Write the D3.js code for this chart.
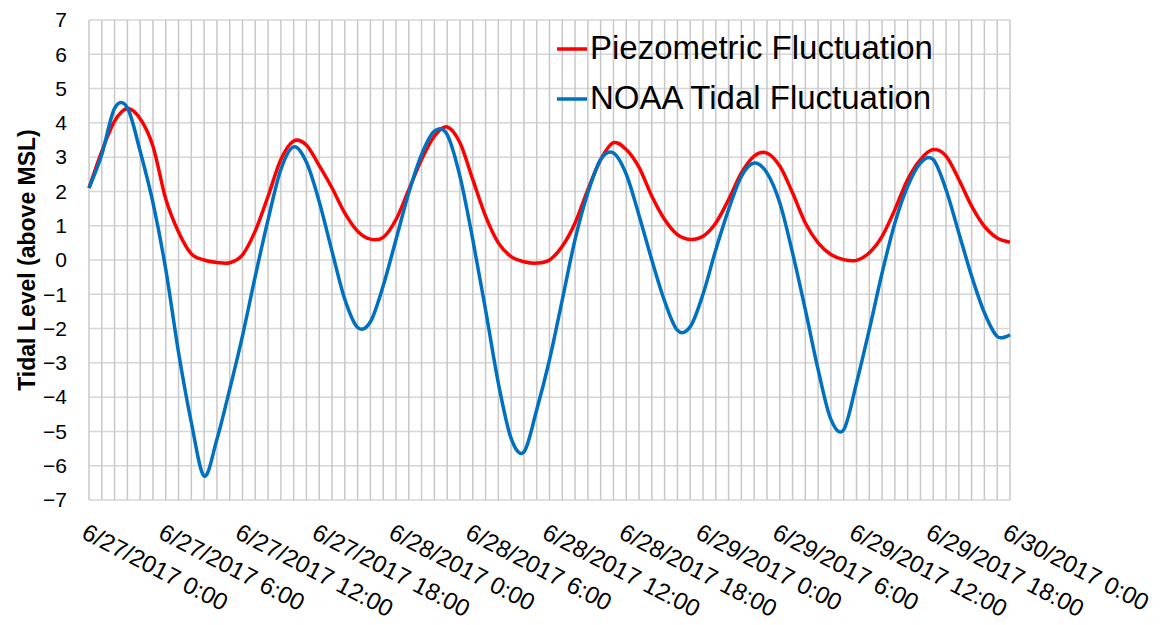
<!DOCTYPE html>
<html>
<head>
<meta charset="utf-8">
<script src="https://cdn.jsdelivr.net/npm/d3@7"></script>
<style>
  body { margin: 0; background: #fff; }
  svg { display: block; font-family: "Liberation Sans", Arial, sans-serif; }
</style>
</head>
<body>
<div id="chart"></div>
<script>
// hourly readings, 6/27/2017 0:00 .. 6/30/2017 0:00
let hours = d3.range(0, 73)

let piezometric = [
  2.10, 3.17, 4.05, 4.42, 4.12, 3.32, 1.78, 0.82, 0.18, 0.00,
  -0.07, -0.08, 0.15, 0.85, 1.86, 2.93, 3.47, 3.35, 2.75, 2.10,
  1.37, 0.84, 0.61, 0.66, 1.18, 2.05, 2.93, 3.61, 3.88, 3.42,
  2.35, 1.28, 0.50, 0.10, -0.05, -0.09, 0.00, 0.40, 1.08, 2.05,
  2.93, 3.42, 3.22, 2.70, 1.86, 1.18, 0.74, 0.60, 0.69, 1.08,
  1.76, 2.54, 3.03, 3.12, 2.74, 1.96, 1.08, 0.50, 0.16, 0.01,
  -0.01, 0.21, 0.69, 1.47, 2.35, 2.93, 3.22, 3.03, 2.35, 1.57,
  0.98, 0.64, 0.52
]

let noaa = [
  2.10, 3.08, 4.42, 4.44, 3.17, 1.67, -0.27, -2.70, -4.74, -6.30,
  -5.23, -3.77, -2.21, -0.47, 1.18, 2.64, 3.30, 2.85, 1.70, 0.25,
  -1.15, -1.97, -1.80, -0.75, 0.60, 1.96, 3.08, 3.76, 3.66, 2.44,
  0.60, -1.45, -3.59, -5.20, -5.60, -4.37, -2.91, -1.16, 0.60, 1.96,
  2.93, 3.12, 2.50, 1.30, 0.00, -1.20, -2.05, -1.95, -1.00, 0.30,
  1.47, 2.44, 2.83, 2.54, 1.67, 0.21, -1.45, -3.20, -4.65, -4.95,
  -3.59, -2.03, -0.38, 1.08, 2.15, 2.83, 2.93, 2.05, 0.79, -0.47,
  -1.54, -2.23, -2.18
]

let labelHours = [0, 6, 12, 18, 24, 30, 36, 42, 48, 54, 60, 66, 72]
let tickLabels = [
  "6/27/2017 0:00", "6/27/2017 6:00", "6/27/2017 12:00", "6/27/2017 18:00",
  "6/28/2017 0:00", "6/28/2017 6:00", "6/28/2017 12:00", "6/28/2017 18:00",
  "6/29/2017 0:00", "6/29/2017 6:00", "6/29/2017 12:00", "6/29/2017 18:00",
  "6/30/2017 0:00"
]
let yTicks = d3.range(-7, 8)

let seriesNames = ["Piezometric Fluctuation", "NOAA Tidal Fluctuation"]
let seriesColors = ["#ff0000", "#0070c0"]

let width = 1167, height = 625
let plotLeft = 89, plotRight = 1010, plotTop = 20, plotBottom = 500

let svg = d3.select("#chart")
    .append("svg")
    .attr("width", width)
    .attr("height", height)

let x = d3.scaleLinear().domain([0, 72]).range([plotLeft, plotRight])
let y = d3.scaleLinear().domain([-7, 7]).range([plotBottom, plotTop])

// gridlines
svg.append("g")
    .selectAll("line")
    .data(yTicks)
    .enter()
    .append("line")
    .attr("x1", plotLeft)
    .attr("x2", plotRight)
    .attr("y1", d => y(d))
    .attr("y2", d => y(d))
    .style("stroke", "#d6d6d6")
    .style("stroke-width", 1.5)

svg.append("g")
    .selectAll("line")
    .data(hours)
    .enter()
    .append("line")
    .attr("x1", d => x(d))
    .attr("x2", d => x(d))
    .attr("y1", plotTop)
    .attr("y2", plotBottom)
    .style("stroke", "#c8c8c8")
    .style("stroke-width", 1.5)

// y axis
let yAxis = svg.append("g")
    .attr("transform", "translate(" + plotLeft + ",0)")
    .call(d3.axisLeft(y).tickValues(yTicks).tickSize(0).tickPadding(22))
yAxis.select(".domain").remove()
yAxis.selectAll("text")
    .style("font-size", "21px")
    .style("font-family", "'Liberation Sans', Arial, sans-serif")
    .style("fill", "#000")

svg.append("text")
    .attr("transform", "translate(35," + ((plotTop + plotBottom) / 2) + ") rotate(-90)")
    .attr("text-anchor", "middle")
    .style("font-size", "23px")
    .style("font-weight", "bold")
    .text("Tidal Level (above MSL)")

// x axis labels, rotated
let xAxis = svg.append("g")
    .attr("transform", "translate(0,522)")
    .call(d3.axisBottom(x).tickValues(labelHours).tickSize(0)
        .tickFormat((d, i) => tickLabels[i]))
xAxis.select(".domain").remove()
xAxis.selectAll("text")
    .attr("x", -1)
    .attr("y", 0)
    .attr("dy", "0.75em")
    .attr("text-anchor", "start")
    .attr("transform", "rotate(27.5)")
    .style("font-size", "24px")
    .style("font-family", "'Liberation Sans', Arial, sans-serif")
    .style("fill", "#000")

// series
let line = d3.line()
    .x((d, i) => x(hours[i]))
    .y(d => y(d))
    .curve(d3.curveCardinal.tension(0))

let series = [piezometric, noaa]
series.forEach((s, i) => {
    svg.append("path")
        .datum(s)
        .attr("d", line)
        .style("fill", "none")
        .style("stroke", seriesColors[i])
        .style("stroke-width", 3.5)
        .style("stroke-linejoin", "round")
})

// legend
let legend = svg.append("g")
    .selectAll("g")
    .data(seriesNames)
    .enter()
    .append("g")
    .attr("transform", (d, i) => "translate(557," + (49 + i * 50) + ")")

legend.append("line")
    .attr("x1", 0)
    .attr("x2", 30)
    .style("stroke", (d, i) => seriesColors[i])
    .style("stroke-width", 3.5)

legend.append("text")
    .attr("x", 33)
    .attr("y", 10)
    .style("font-size", "33px")
    .text(d => d)
</script>
</body>
</html>
